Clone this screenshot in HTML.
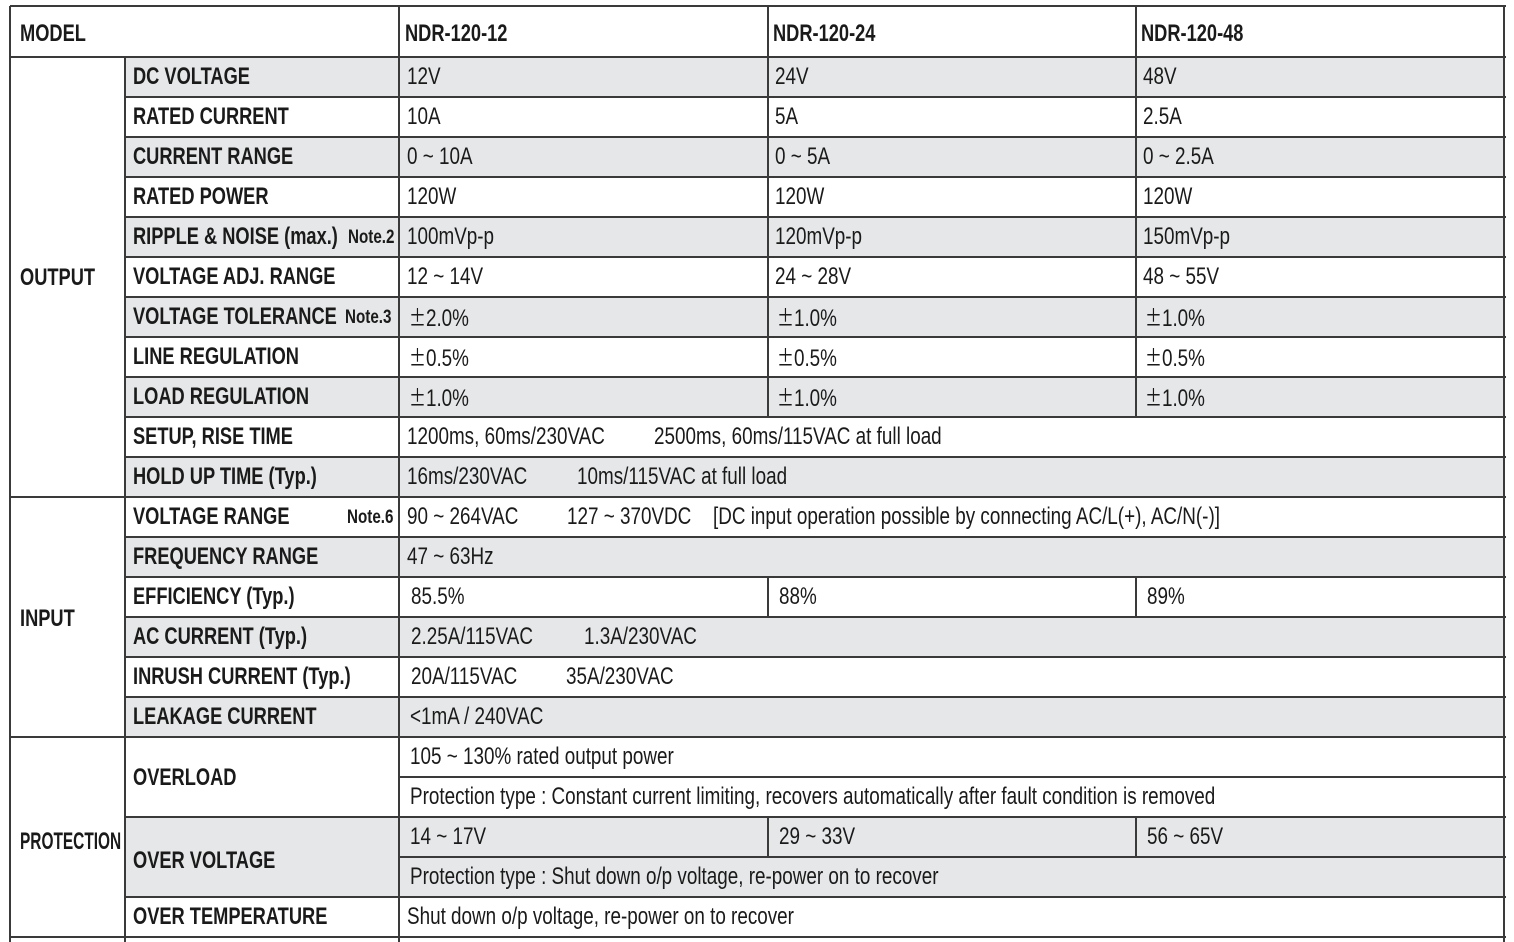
<!DOCTYPE html>
<html><head><meta charset="utf-8">
<style>
html,body{margin:0;padding:0;background:#fff;}
#t{position:relative;width:1514px;height:942px;overflow:hidden;font-family:"Liberation Sans",sans-serif;color:#1a1a1a;}
.bg{position:absolute;background:#e6e7e8;}
.hl{position:absolute;height:1.5px;background:#3a3a3a;}
.vl{position:absolute;width:1.5px;background:#3a3a3a;}
.tx{position:absolute;font-size:24.5px;line-height:26px;white-space:nowrap;transform:scaleX(0.77);transform-origin:0 50%;}
.b{font-weight:bold;transform:scaleX(0.745);}
.g{font-weight:bold;transform:scaleX(0.63);}
.n{font-size:19px;font-weight:bold;transform:scaleX(0.8);}
.pm{font-family:"Noto Sans CJK JP",sans-serif;font-size:22px;}
</style></head>
<body>
<div id="t"></div>
<script>
var rowTops=[57,97,137,177,217,257,297,337,377,417,457,497,537,577,617,657,697,737,777,817,857,897,937];
var grayRows=[0,2,4,6,8,10,12,14,16];
var grayRects=[[125,817,1504,897]];
var t=document.getElementById('t');
function txt(x,yc,s,cls,name){
  var d=document.createElement('div');
  d.className='tx '+(cls||'');
  if(s.charAt(0)==='±'){
    var p=document.createElement('span');p.className='pm';p.textContent='±';
    d.appendChild(p);d.appendChild(document.createTextNode(s.slice(1)));
  } else d.textContent=s;
  d.style.left=x+'px';d.style.top=(yc-13)+'px';
  
  
  t.appendChild(d);
}
function bg(x1,y1,x2,y2){
  var d=document.createElement('div');d.className='bg';
  d.style.left=x1+'px';d.style.top=y1+'px';d.style.width=(x2-x1)+'px';d.style.height=(y2-y1)+'px';
  
  
  t.appendChild(d);
}
function hl(x1,x2,y){
  var d=document.createElement('div');d.className='hl';
  d.style.left=x1+'px';d.style.top=(y-0.75)+'px';d.style.width=(x2-x1+1.5)+'px';
  
  
  t.appendChild(d);
}
function vl(x,y1,y2){
  var d=document.createElement('div');d.className='vl';
  d.style.left=(x-0.75)+'px';d.style.top=y1+'px';d.style.height=(y2-y1)+'px';
  
  
  t.appendChild(d);
}
grayRows.forEach(function(i){bg(125,rowTops[i],1504,rowTops[i+1]);});
grayRects.forEach(function(r){bg(r[0],r[1],r[2],r[3]);});
hl(10,1504,6);hl(10,1504,57);hl(10,1504,497);hl(10,1504,737);hl(10,1504,937);
[97,137,177,217,257,297,337,377,417,457,537,577,617,657,697,817,897].forEach(function(y){hl(125,1504,y);});
hl(399,1504,777);hl(399,1504,857);
vl(10,6,942);vl(1504,6,942);vl(399,6,942);vl(125,57,942);
vl(768,6,417);vl(1136,6,417);vl(768,577,617);vl(1136,577,617);vl(768,817,857);vl(1136,817,857);
txt(20,34,'MODEL','b','model-header');
txt(405,34,'NDR-120-12','b','model-ndr-120-12');
txt(773,34,'NDR-120-24','b','model-ndr-120-24');
txt(1141,34,'NDR-120-48','b','model-ndr-120-48');
txt(20,278,'OUTPUT','b','group-output');
txt(20,619,'INPUT','b','group-input');
txt(20,842,'PROTECTION','g','group-protection');
var rows=[
 ['DC VOLTAGE',null,[[407,'12V'],[775,'24V'],[1143,'48V']]],
 ['RATED CURRENT',null,[[407,'10A'],[775,'5A'],[1143,'2.5A']]],
 ['CURRENT RANGE',null,[[407,'0 ~ 10A'],[775,'0 ~ 5A'],[1143,'0 ~ 2.5A']]],
 ['RATED POWER',null,[[407,'120W'],[775,'120W'],[1143,'120W']]],
 ['RIPPLE & NOISE (max.)',[348,'Note.2'],[[407,'100mVp-p'],[775,'120mVp-p'],[1143,'150mVp-p']]],
 ['VOLTAGE ADJ. RANGE',null,[[407,'12 ~ 14V'],[775,'24 ~ 28V'],[1143,'48 ~ 55V']]],
 ['VOLTAGE TOLERANCE',[345,'Note.3'],[[409,'±2.0%'],[777,'±1.0%'],[1145,'±1.0%']]],
 ['LINE REGULATION',null,[[409,'±0.5%'],[777,'±0.5%'],[1145,'±0.5%']]],
 ['LOAD REGULATION',null,[[409,'±1.0%'],[777,'±1.0%'],[1145,'±1.0%']]],
 ['SETUP, RISE TIME',null,[[407,'1200ms, 60ms/230VAC'],[654,'2500ms, 60ms/115VAC at full load']]],
 ['HOLD UP TIME (Typ.)',null,[[407,'16ms/230VAC'],[577,'10ms/115VAC at full load']]],
 ['VOLTAGE RANGE',[347,'Note.6'],[[407,'90 ~ 264VAC'],[567,'127 ~ 370VDC'],[713,'[DC input operation possible by connecting AC/L(+), AC/N(-)]']]],
 ['FREQUENCY RANGE',null,[[407,'47 ~ 63Hz']]],
 ['EFFICIENCY (Typ.)',null,[[411,'85.5%'],[779,'88%'],[1147,'89%']]],
 ['AC CURRENT (Typ.)',null,[[411,'2.25A/115VAC'],[584,'1.3A/230VAC']]],
 ['INRUSH CURRENT (Typ.)',null,[[411,'20A/115VAC'],[566,'35A/230VAC']]],
 ['LEAKAGE CURRENT',null,[[410,'<1mA / 240VAC']]],
 [null,null,[[410,'105 ~ 130% rated output power']]],
 [null,null,[[410,'Protection type : Constant current limiting, recovers automatically after fault condition is removed']]],
 [null,null,[[410,'14 ~ 17V'],[779,'29 ~ 33V'],[1147,'56 ~ 65V']]],
 [null,null,[[410,'Protection type : Shut down o/p voltage, re-power on to recover']]],
 ['OVER TEMPERATURE',null,[[407,'Shut down o/p voltage, re-power on to recover']]]
];
rows.forEach(function(r,i){
  var yc=(rowTops[i]+rowTops[i+1])/2;
  if(r[0])txt(133,yc,r[0],'b','row-label');
  if(r[1])txt(r[1][0],yc+1,r[1][1],'n','row-note');
  r[2].forEach(function(c){txt(c[0],yc,c[1],'','row-value');});
});
txt(133,778,'OVERLOAD','b','row-label-overload');
txt(133,861,'OVER VOLTAGE','b','row-label-over-voltage');
</script>
</body></html>
